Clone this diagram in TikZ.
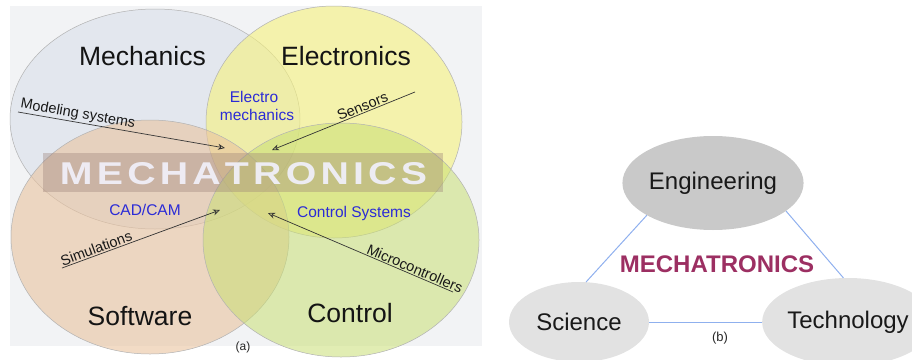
\documentclass[tikz,border=0pt]{standalone}
\usepackage{fontspec}
\setmainfont{Liberation Sans}
\usetikzlibrary{arrows.meta,shapes.geometric}
\definecolor{panel}{HTML}{F2F3F5}
\definecolor{mech}{HTML}{E3E7EE}
\definecolor{elec}{HTML}{F6F27C}
\definecolor{soft}{HTML}{E9C39F}
\definecolor{ctrl}{HTML}{C9DF74}
\definecolor{band}{HTML}{9A7E76}
\definecolor{bandtext}{HTML}{F0EFF8}
\definecolor{lblue}{HTML}{2B2BD6}
\definecolor{mag}{HTML}{9C2F62}
\definecolor{link}{HTML}{8FB0EE}
\definecolor{bubA}{HTML}{C9C9C9}
\definecolor{bubB}{HTML}{E2E2E2}
\newcommand{\bandword}{\fontsize{28}{30}\selectfont\bfseries
  M\kern3pt E\kern3pt C\kern3pt H\kern3pt A\kern3pt T\kern3pt R\kern3pt O\kern3pt N\kern3pt I\kern3pt C\kern3pt S}
\begin{document}
\begin{tikzpicture}[x=1pt,y=-1pt,
  venn/.style={draw=gray!60, line width=0.5pt},
  big/.style={font=\fontsize{26.5}{30}\selectfont, inner sep=0pt, anchor=base, text=black!92},
  bluelbl/.style={font=\fontsize{15.5}{18}\selectfont, inner sep=0pt, anchor=base, text=lblue},
  ptr/.style={draw=black!80, line width=0.7pt},
  lbl/.style={font=\fontsize{14.5}{16}\selectfont, inner sep=1pt, text=black!90},
  bubble/.style={ellipse, inner sep=0pt, font=\fontsize{24}{28}\selectfont, text=black!90},
  ptrhead/.tip={Stealth[open,length=7pt,width=6pt]}
  ]
\useasboundingbox (0,0) rectangle (912,359);
% ---------- panel (a)
\fill[panel] (10,6) rectangle (482,346);
\filldraw[venn, fill=mech] (155,119) ellipse [x radius=145pt, y radius=110pt];
\filldraw[venn, fill=elec, fill opacity=0.6] (334,122) ellipse [x radius=128pt, y radius=116pt];
\filldraw[venn, fill=soft, fill opacity=0.6] (150,237) ellipse [x radius=139pt, y radius=117pt];
\filldraw[venn, fill=ctrl, fill opacity=0.55] (341,240) ellipse [x radius=138pt, y radius=117pt];
\fill[band, fill opacity=0.36] (43,153) rectangle (443,192);
\node[inner sep=0pt, text=bandtext, text opacity=0.95] (bandtxt) at (243.5,174) {\resizebox{367pt}{22pt}{\bandword}};

\node[big] (mechl) at (142.5,65) {Mechanics};
\node[big] (elecl) at (346,65) {Electronics};
\node[big] (softl) at (140,325) {Software};
\node[big] (ctrll) at (350,322) {Control};

\node[bluelbl] (em1) at (254,102) {Electro};
\node[bluelbl] (em2) at (257,120) {mechanics};
\node[bluelbl] (cad) at (145,215) {CAD/CAM};
\node[bluelbl] (cs) at (354,217) {Control Systems};

\coordinate (msA) at (18,112);
\coordinate (msB) at (225,148);
\draw[ptr, -ptrhead] (msA) -- node[lbl, sloped, pos=0, anchor=south west] (msl) {Modeling systems} (msB);
\coordinate (snA) at (415,92);
\coordinate (snB) at (272,150);
\draw[ptr, ptrhead-] (snB) -- node[lbl, sloped, pos=0.65, anchor=south] (snl) {Sensors} (snA);
\coordinate (smA) at (62,268);
\coordinate (smB) at (220,210);
\draw[ptr, -ptrhead] (smA) -- node[lbl, sloped, pos=0, anchor=south west] (sml) {Simulations} (smB);
\coordinate (mcA) at (453,292);
\coordinate (mcB) at (268,213);
\draw[ptr, ptrhead-] (mcB) -- node[lbl, sloped, pos=0.78, anchor=south] (mcl) {Microcontrollers} (mcA);

\node[font=\fontsize{12}{14}\selectfont, text=black!85] (capa) at (243,347) {(a)};
% ---------- panel (b)
\node[bubble, fill=bubA, minimum width=146pt, minimum height=94pt] (eng) at (713,183) {Engineering};
\node[bubble, fill=bubB, minimum width=140pt, minimum height=80pt] (sci) at (579,322) {Science};
\node[bubble, fill=bubB, minimum width=146pt, minimum height=88pt] (tech) at (848,322) {Technology};
\draw[link, line width=1pt] (eng.206) -- (sci.80);
\draw[link, line width=1pt] (eng.339) -- (tech.96);
\draw[link, line width=1pt] (sci.east) -- (tech.west);
\node[font=\fontsize{24}{28}\selectfont\bfseries, text=mag, inner sep=0pt, anchor=base] (mecht) at (717,272) {MECHATRONICS};
\node[font=\fontsize{13}{15}\selectfont, text=black!85] (capb) at (720,338) {(b)};
\end{tikzpicture}
\end{document}
